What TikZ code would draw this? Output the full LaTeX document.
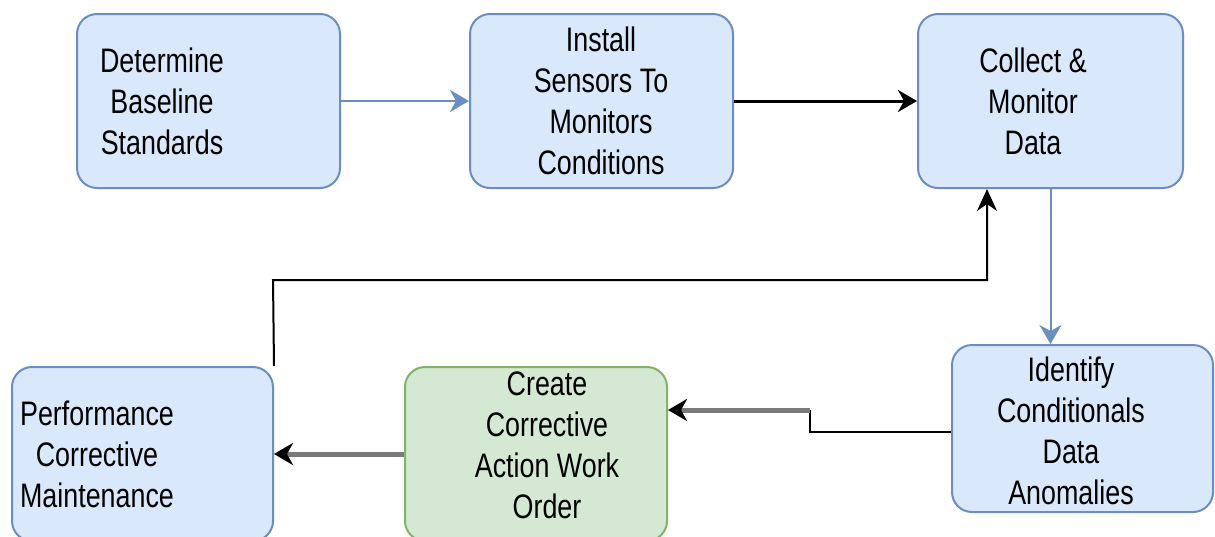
\documentclass[tikz,border=0pt]{standalone}
\usepackage{fontspec}
\setmainfont{Liberation Sans}[FakeStretch=0.79]
\usetikzlibrary{arrows.meta}
\definecolor{bluefill}{HTML}{DAE8FC}
\definecolor{bluedraw}{HTML}{6C8EBF}
\definecolor{greenfill}{HTML}{D5E8D4}
\definecolor{greendraw}{HTML}{82B366}
\definecolor{midgray}{HTML}{7A7A7A}
\tikzset{
  stepbox/.style={rounded corners=20pt, line width=2pt, inner sep=0pt},
  bluebox/.style={stepbox, draw=bluedraw, fill=bluefill},
  greenbox/.style={stepbox, draw=greendraw, fill=greenfill},
  txt/.style={align=center, inner sep=0pt, font=\fontsize{34}{41}\selectfont},
  bluearrow/.style={draw=bluedraw, line width=2pt, -{Stealth[length=19pt, width=22pt, inset=6pt]}},
  blackarrow/.style={draw=black, line width=3pt, -{Stealth[length=19pt, width=22pt, inset=6pt]}},
  thinline/.style={draw=black, line width=2pt},
  thinarrow/.style={draw=black, line width=2pt, -{Stealth[length=22pt, width=20pt, inset=7pt]}},
  grayarrow/.style={draw=midgray, line width=5pt, -{Stealth[length=19pt, width=22pt, inset=6pt, color=black]}},
}
\begin{document}
\begin{tikzpicture}[x=1pt, y=-1pt]
\useasboundingbox (0,0) rectangle (1215,536);

% process boxes
\node[bluebox, minimum width=263pt, minimum height=174pt] (b1) at (208.5,101) {};
\node[bluebox, minimum width=263pt, minimum height=174pt] (b2) at (601.5,101) {};
\node[bluebox, minimum width=265pt, minimum height=174pt] (b3) at (1050.5,101) {};
\node[bluebox, minimum width=261pt, minimum height=167pt] (b4) at (1082.5,428.5) {};
\node[greenbox, minimum width=262pt, minimum height=174pt] (b5) at (536,454) {};
\node[bluebox, minimum width=261pt, minimum height=174pt] (b6) at (142.5,454) {};

% box labels
\node[txt] (t1) at (162,101) {Determine\\Baseline\\Standards};
\node[txt] (t2) at (601,101) {Install\\Sensors To\\Monitors\\Conditions};
\node[txt] (t3) at (1033,101) {Collect \&\\Monitor\\Data};
\node[txt] (t4) at (1071,431) {Identify\\Conditionals\\Data\\Anomalies};
\node[txt] (t5) at (547,445) {Create\\Corrective\\Action Work\\Order};
\node[txt] (t6) at (97,454) {Performance\\Corrective\\Maintenance};

% connectors
\draw[bluearrow] (b1.east) -- (b2.west);
\draw[blackarrow] (b2.east) -- (b3.west);
\draw[bluearrow] (b3.south) -- (b3.south |- b4.north);

\coordinate (k1) at (810,432);
\coordinate (k2) at (810,410);
\draw[thinline] (b4.west |- k1) -- (k1) -- (k2);
\draw[grayarrow] (k2) -- (k2 -| b5.east);

\draw[grayarrow] (b5.west) -- (b6.east);

\coordinate (k3) at (273,280);
\coordinate (k4) at (987,280);
\draw[thinarrow] (b6.north east) -- (k3) -- (k4) -- (k4 |- b3.south);
\end{tikzpicture}
\end{document}
